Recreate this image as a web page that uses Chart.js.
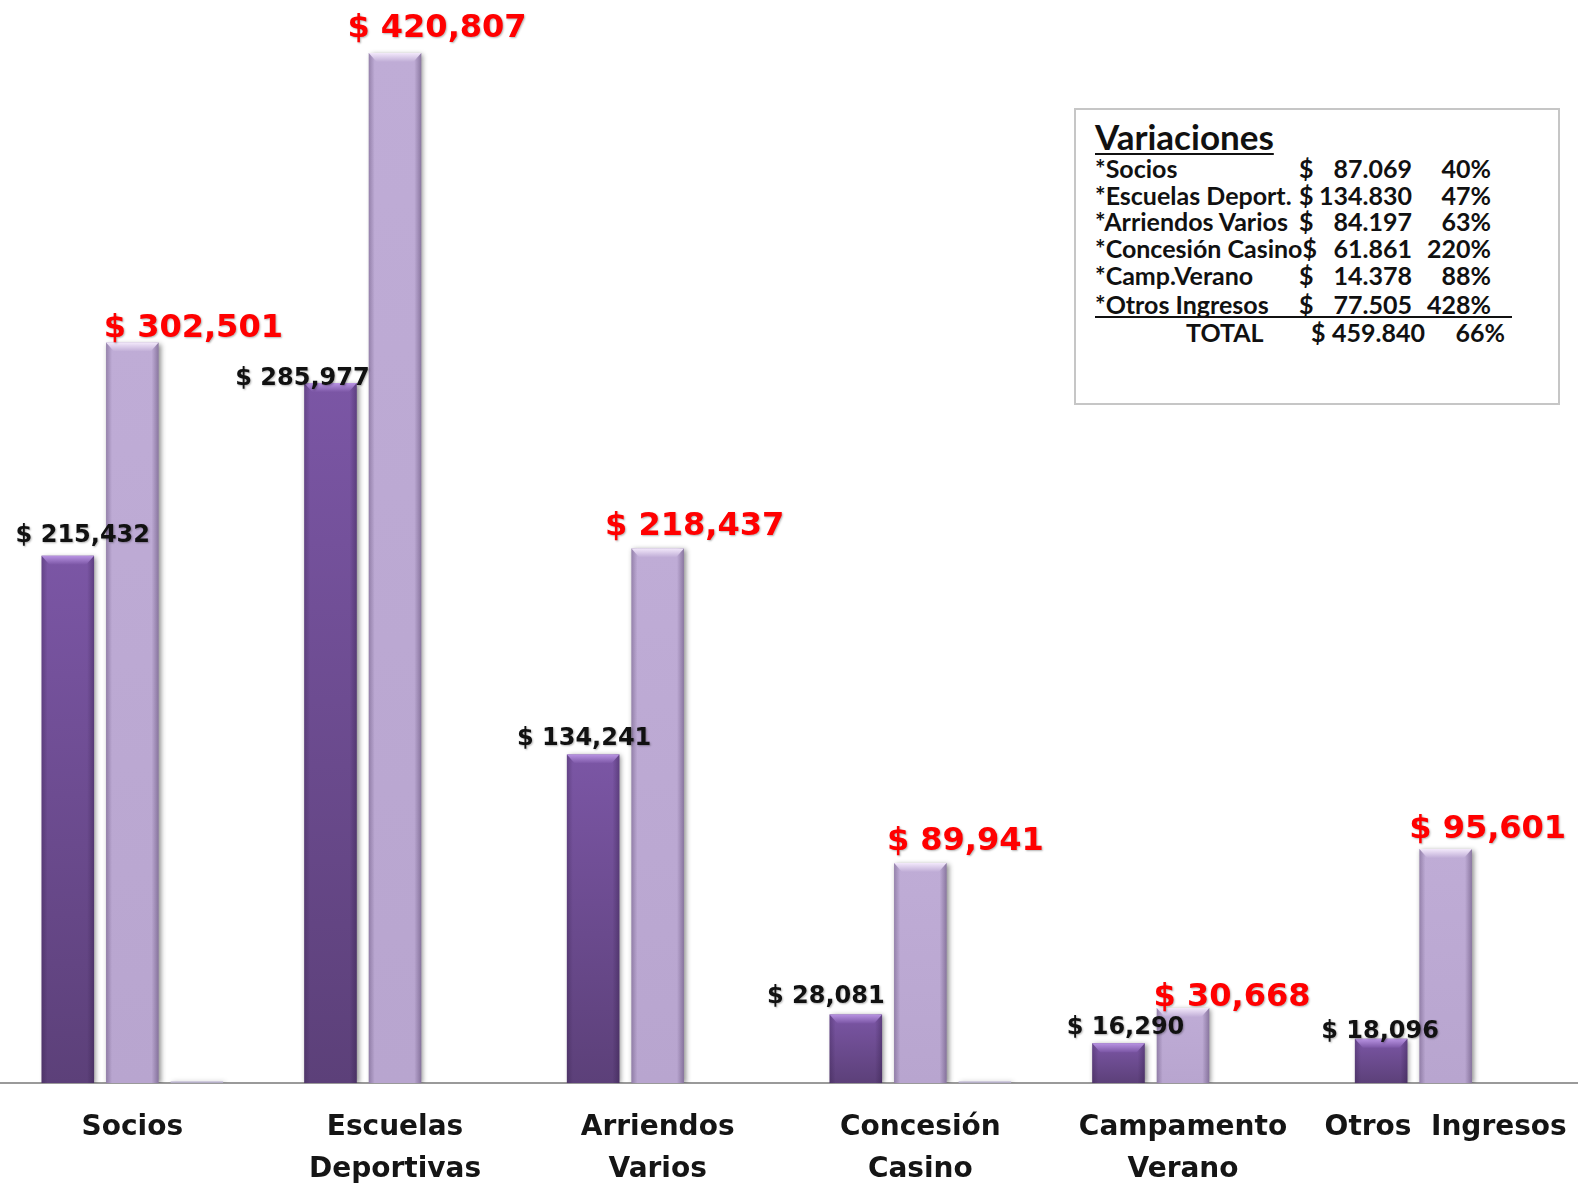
<!DOCTYPE html>
<html>
<head>
<meta charset="utf-8">
<script src="https://cdn.jsdelivr.net/npm/chart.js@4.4.1/dist/chart.umd.min.js"></script>
<style>
  body { margin: 0; background: #ffffff; }
  #wrap { position: relative; width: 1583px; height: 1189px; overflow: hidden; }
  #c { position: absolute; left: 0; top: 0; }
  #box { position: absolute; left: 1074px; top: 108px; width: 482px; height: 293px;
         border: 2px solid #c6c6c6; background: #fff;
         font-family: Lato, "Open Sans", sans-serif; font-weight: bold; color: #111; }
  #box .t { position: absolute; left: 19px; top: 7px; font-size: 35px; line-height: 38px; text-decoration: underline; text-decoration-thickness: 2px; text-underline-offset: 3px; }
  #box .cell { position: absolute; font-size: 25px; line-height: 27px; white-space: pre; }
  #box .r { text-align: right; }
  #box .sep { position: absolute; left: 19px; width: 417px; top: 206px; border-top: 2px solid #111; }
</style>
</head>
<body>
<div id="wrap">
  <canvas id="c" width="1583" height="1189"></canvas>
  <div id="box"></div>
</div>
<script>
// ---- data ----
const categories = [["Socios"], ["Escuelas", "Deportivas"], ["Arriendos", "Varios"], ["Concesión", "Casino"], ["Campamento", "Verano"], ["Otros  Ingresos"]];
const prevValues = [215432, 285977, 134241, 28081, 16290, 18096];
const currValues = [302501, 420807, 218437, 89941, 30668, 95601];
const thirdValues = [800, null, null, 800, null, null];

const varTitle = "Variaciones";
const varNames = ["*Socios", "*Escuelas Deport.", "*Arriendos Varios", "*Concesión Casino", "*Camp.Verano", "*Otros Ingresos"];
const varAmounts = ["87.069", "134.830", "84.197", "61.861", "14.378", "77.505"];
const varPcts = ["40%", "47%", "63%", "220%", "88%", "428%"];
const totalLabel = "TOTAL";
const totalAmount = "459.840";
const totalPct = "66%";

// ---- variations box ----
(function buildBox() {
  const box = document.getElementById('box');
  let html = '<div class="t">' + varTitle + '</div>';
  const rowTop = i => 45 + i * 26.7 + (i >= 5 ? 2.5 : 0);
  varNames.forEach((n, i) => {
    const t = rowTop(i);
    html += '<div class="cell nm" style="left:19px;top:' + t + 'px">' + n + '</div>';
    html += '<div class="cell dl" style="left:223px;top:' + t + 'px">$</div>';
    html += '<div class="cell r" style="left:235px;width:101px;top:' + t + 'px">' + varAmounts[i] + '</div>';
    html += '<div class="cell r" style="left:335px;width:80px;top:' + t + 'px">' + varPcts[i] + '</div>';
  });
  const tt = 208.5;
  html += '<div class="sep"></div>';
  html += '<div class="cell" style="left:110px;top:' + tt + 'px">' + totalLabel + '</div>';
  html += '<div class="cell" style="left:235px;top:' + tt + 'px">$</div>';
  html += '<div class="cell r" style="left:248px;width:101px;top:' + tt + 'px">' + totalAmount + '</div>';
  html += '<div class="cell r" style="left:349px;width:80px;top:' + tt + 'px">' + totalPct + '</div>';
  box.innerHTML = html;
  const nms = box.querySelectorAll('.nm'), dls = box.querySelectorAll('.dl');
  nms.forEach((el, i) => {
    const end = 19 + el.getBoundingClientRect().width;
    if (i !== 3 && end + 3 > 223) dls[i].style.left = (end + 3) + 'px';
    if (i === 3 && end > 223) dls[i].style.left = end + 'px';
  });
})();

const fmt = v => '$ ' + v.toLocaleString('en-US');

function vGrad(ctx, c0, c1, fallback) {
  const ch = ctx.chart;
  if (!ch.chartArea || !ch.scales.y || ctx.raw == null) return fallback;
  const y = ch.scales.y;
  const top = y.getPixelForValue(ctx.raw);
  const bot = y.getPixelForValue(0);
  if (!isFinite(top) || !isFinite(bot) || top >= bot) return fallback;
  const g = ch.ctx.createLinearGradient(0, top, 0, bot);
  g.addColorStop(0, c0);
  g.addColorStop(1, c1);
  return g;
}
const darkFill = ctx => vGrad(ctx, '#7b56a5', '#5c4079', '#6e4d94');
const lightFill = ctx => vGrad(ctx, '#bfacd6', '#b8a5cf', '#bca9d3');

const barFx = {
  id: 'barFx',
  beforeDatasetsDraw(chart) {
    const c = chart.ctx;
    c.save();
    c.shadowColor = 'rgba(0,0,0,0.45)';
    c.shadowBlur = 5;
    c.shadowOffsetX = 2;
    c.shadowOffsetY = 1;
  },
  afterDatasetsDraw(chart, args, opts) {
    const c = chart.ctx;
    c.restore();
    const hl = ['#b994e3', '#f3e9fb'];
    const base = ['#7b56a5', '#bfacd6'];
    [0, 1].forEach(di => {
      const meta = chart.getDatasetMeta(di);
      meta.data.forEach(bar => {
        const w = bar.width, l = bar.x - w / 2, r = bar.x + w / 2, t = bar.y, b = bar.base;
        if (b - t < 2) return;
        c.save();
        let g = c.createLinearGradient(l, 0, l + 6, 0);
        g.addColorStop(0, 'rgba(40,20,60,0.28)');
        g.addColorStop(1, 'rgba(40,20,60,0)');
        c.fillStyle = g; c.fillRect(l, t, 6, b - t);
        g = c.createLinearGradient(r - 7, 0, r, 0);
        g.addColorStop(0, 'rgba(40,20,60,0)');
        g.addColorStop(1, 'rgba(40,20,60,0.35)');
        c.fillStyle = g; c.fillRect(r - 7, t, 7, b - t);
        const bh = Math.min(9, (b - t) / 2);
        g = c.createLinearGradient(0, t, 0, t + bh);
        g.addColorStop(0, hl[di]);
        g.addColorStop(1, base[di]);
        c.beginPath();
        c.moveTo(l, t); c.lineTo(r, t); c.lineTo(r - 8, t + bh); c.lineTo(l + 8, t + bh); c.closePath();
        c.fillStyle = g; c.fill();
        c.restore();
      });
    });
    const specs = [
      { ds: 0, color: '#111111', size: 24, nudge: opts.prevNudge },
      { ds: 1, color: '#ff0000', size: 32, nudge: opts.currNudge }
    ];
    specs.forEach(s => {
      const meta = chart.getDatasetMeta(s.ds);
      const vals = chart.data.datasets[s.ds].data;
      c.save();
      c.font = 'bold ' + s.size + 'px "DejaVu Sans"';
      c.textAlign = 'center';
      c.textBaseline = 'middle';
      c.shadowColor = 'rgba(0,0,0,0.3)';
      c.shadowBlur = 2;
      c.shadowOffsetX = 1;
      c.shadowOffsetY = 1;
      c.fillStyle = s.color;
      meta.data.forEach((bar, i) => {
        const n = s.nudge[i];
        c.fillText(fmt(vals[i]), bar.x + n[0], bar.y + n[1]);
      });
      c.restore();
    });
  }
};

new Chart(document.getElementById('c'), {
  type: 'bar',
  data: {
    labels: categories,
    datasets: [
      { label: 'Anterior', data: prevValues, backgroundColor: darkFill, borderWidth: 0 },
      { label: 'Actual', data: currValues, backgroundColor: lightFill, borderWidth: 0 },
      { label: '', data: thirdValues, backgroundColor: 'rgba(190,182,212,0.8)', borderWidth: 0 }
    ]
  },
  options: {
    responsive: false,
    animation: false,
    layout: { padding: { top: 6, left: 1, right: 6, bottom: -25 } },
    datasets: { bar: { categoryPercentage: 0.737, barPercentage: 0.814 } },
    plugins: {
      legend: { display: false },
      tooltip: { enabled: false },
      barFx: {
        prevNudge: [[15, -20], [-28, -4], [-9, -16], [-30, -18], [7, -15], [-1, -7]],
        currNudge: [[61, -14], [42, -24], [37, -22], [45, -21], [49, -10], [42, -19]]
      }
    },
    scales: {
      x: {
        afterFit: s => { s.paddingLeft = 0; s.paddingRight = 0; },
        grid: { display: false, drawTicks: false },
        border: { display: true, color: '#9a9a9a', width: 2 },
        ticks: {
          color: '#151515', padding: 24, maxRotation: 0, autoSkip: false,
          font: { family: '"DejaVu Sans"', weight: 'bold', size: 28, lineHeight: 1.48 }
        }
      },
      y: { display: false, min: 0, max: 440000 }
    }
  },
  plugins: [barFx]
});
</script>
</body>
</html>
